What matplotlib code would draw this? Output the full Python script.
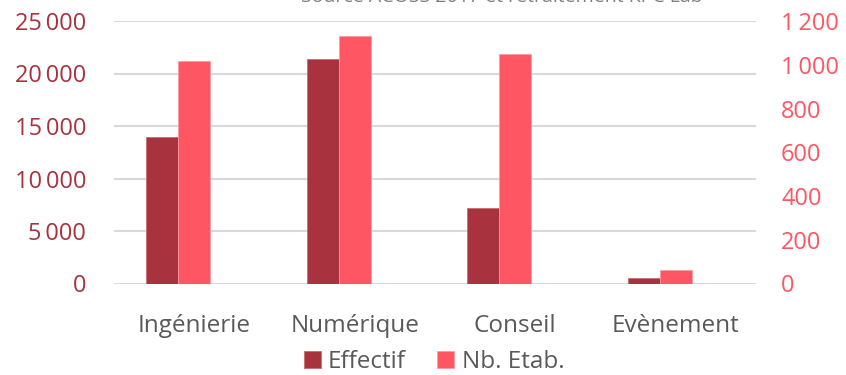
import numpy as np
import matplotlib.pyplot as plt

categories = ['Ingénierie', 'Numérique', 'Conseil', 'Evènement']
effectif = [14000, 21350, 7150, 520]
nb_etab = [1016, 1131, 1049, 60]
left_ticks = [0, 5000, 10000, 15000, 20000, 25000]
right_ticks = [0, 200, 400, 600, 800, 1000, 1200]

dark = '#A8333F'
light = '#FF5663'
grey = '#595959'

plt.rcParams['font.family'] = ['Open Sans', 'DejaVu Sans']


def fmt(v):
    # French thousands separator (thin space)
    return '{:,}'.format(v).replace(',', '\u2009')


fig = plt.figure(figsize=(8.46, 3.75), dpi=100)
ax = fig.add_axes([114 / 846, 1 - 283.5 / 375, (756 - 114) / 846, (283.5 - 21) / 375])
ax2 = ax.twinx()

x = np.arange(len(categories))
w = 0.2
ax.bar(x - w, effectif, w, color=dark, edgecolor='#c96a73', linewidth=0.6, label='Effectif', zorder=3)
ax2.bar(x, nb_etab, w, color=light, edgecolor='#ff9aa1', linewidth=0.6, label='Nb. Etab.', zorder=3)

ax.set_xlim(-0.5, 3.5)
ax.set_ylim(0, 25000)
ax2.set_ylim(0, 1200)
ax.set_yticks(left_ticks)
ax.set_yticklabels([fmt(v) for v in left_ticks])
ax2.set_yticks(right_ticks)
ax2.set_yticklabels([fmt(v) for v in right_ticks])
ax.set_xticks(x)
ax.set_xticklabels(categories)

ax.grid(axis='y', color='#d9d9d9', linewidth=1.5, zorder=0)
ax.set_axisbelow(True)
for a in (ax, ax2):
    for s in a.spines.values():
        s.set_visible(False)
ax.tick_params(axis='y', length=0, pad=20, labelsize=17, labelcolor=dark)
ax.tick_params(axis='x', length=0, pad=22, labelsize=17.5, labelcolor=grey)
ax2.tick_params(axis='y', length=0, pad=18, labelsize=17, labelcolor=light)

fig.text(0.593, 1.008, 'Source ACOSS 2017 et retraitement KPC Lab', ha='center', va='center',
         fontsize=14, color='#7f7f7f')

h1, l1 = ax.get_legend_handles_labels()
h2, l2 = ax2.get_legend_handles_labels()
fig.legend(h1 + h2, l1 + l2, loc='center', bbox_to_anchor=(434 / 846, 1 - 362 / 375),
           ncol=2, frameon=False, fontsize=17.5, labelcolor=grey, handlelength=0.7,
           handleheight=0.7, handletextpad=0.3, columnspacing=1.3, borderpad=0)

fig.savefig('out.png', dpi=100)
